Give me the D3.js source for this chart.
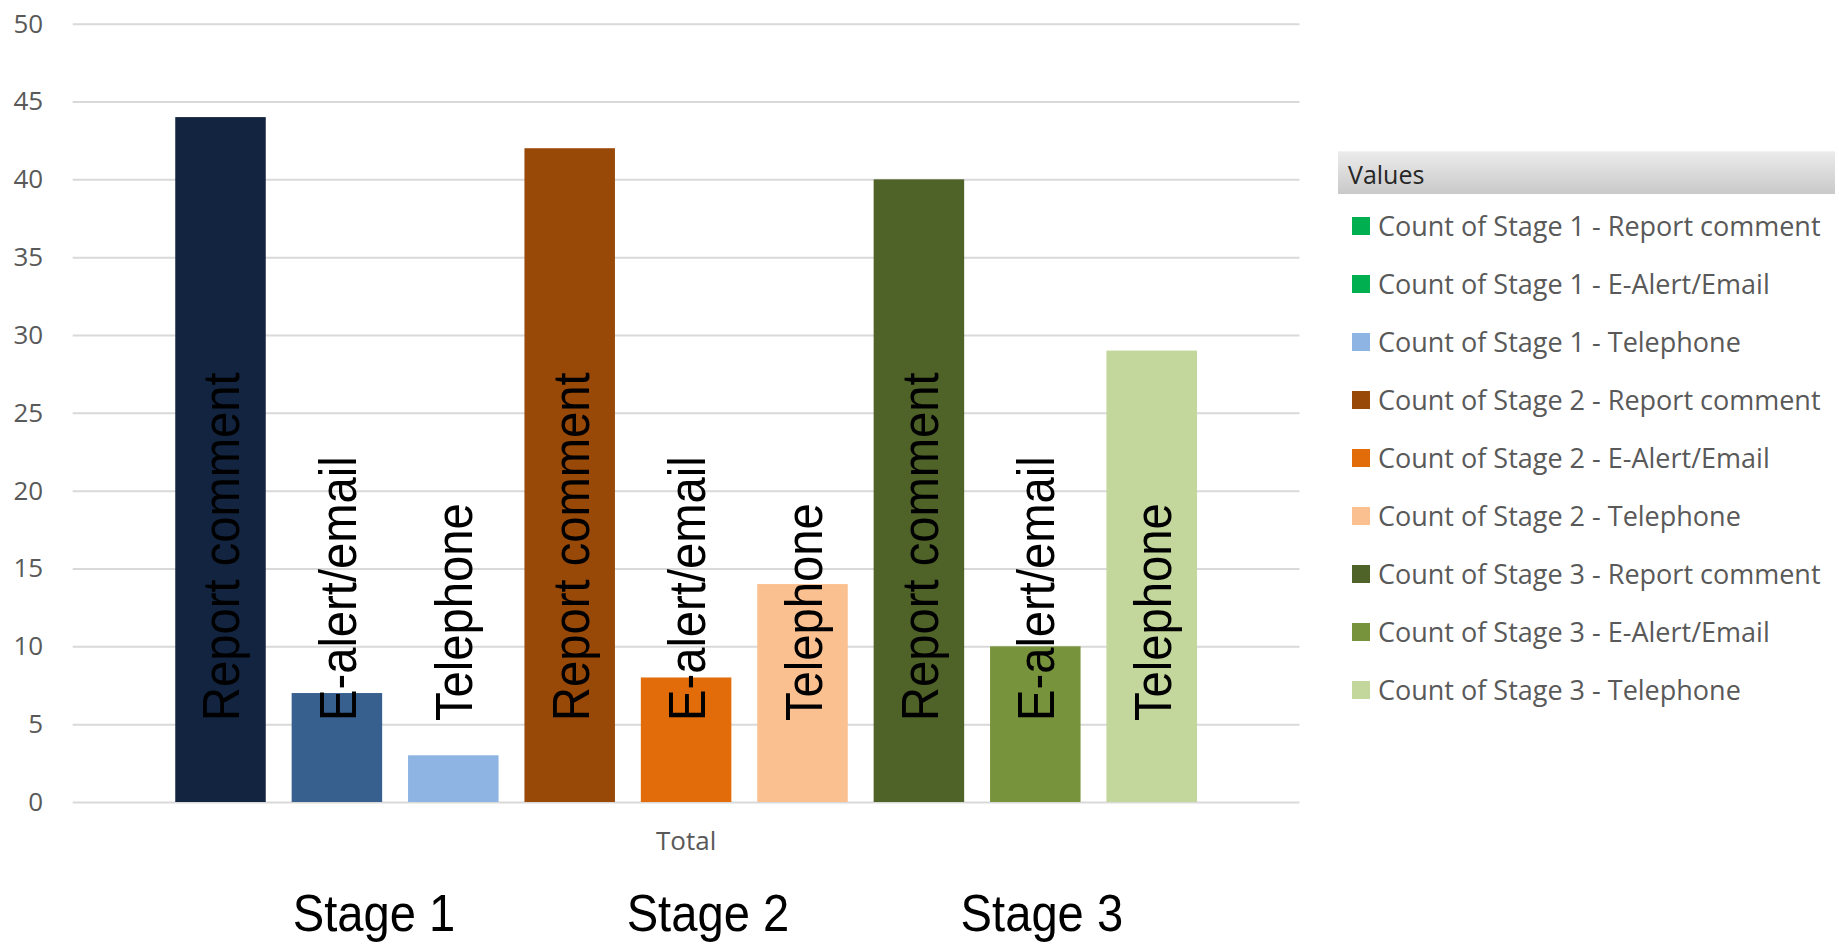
<!DOCTYPE html>
<html><head><meta charset="utf-8">
<script src="https://cdn.jsdelivr.net/npm/d3@7"></script>
<style>body{margin:0;background:#fff;} svg{display:block}</style>
</head><body><svg id="c" width="1839" height="944"></svg>
<script>
// ---- data ----
const seriesKeys = ["S1 Report comment","S1 E-alert/email","S1 Telephone",
                    "S2 Report comment","S2 E-alert/email","S2 Telephone",
                    "S3 Report comment","S3 E-alert/email","S3 Telephone"];
const values = [44, 7, 3, 42, 8, 14, 40, 10, 29];
const barLabels = ["Report comment","E-alert/email","Telephone",
                   "Report comment","E-alert/email","Telephone",
                   "Report comment","E-alert/email","Telephone"];
const barColors = ["#12243f","#37608f","#8eb4e3",
                   "#984807","#e36c0a","#fac090",
                   "#4f6228","#77933c","#c3d69b"];
const legendLabels = ["Count of Stage 1 - Report comment","Count of Stage 1 - E-Alert/Email","Count of Stage 1 - Telephone",
                      "Count of Stage 2 - Report comment","Count of Stage 2 - E-Alert/Email","Count of Stage 2 - Telephone",
                      "Count of Stage 3 - Report comment","Count of Stage 3 - E-Alert/Email","Count of Stage 3 - Telephone"];
const legendColors = ["#00b050","#00b050","#8eb4e3",
                      "#984807","#e36c0a","#fac090",
                      "#4f6228","#77933c","#c3d69b"];
const stages = ["Stage 1","Stage 2","Stage 3"];
const categories = ["Total"];
const yTicks = [0,5,10,15,20,25,30,35,40,45,50];
const legendTitle = "Values";

// ---- layout ----
const svg = d3.select("#c");
const x0 = 72.7, x1 = 1299.5, yTop = 23.7, yBot = 802;
const W = x1 - x0;

const y = d3.scaleLinear().domain([0, 50]).range([yBot, yTop]);
const xCat = d3.scaleBand().domain(categories).range([x0, x1]);
const xBar = d3.scaleBand().domain(seriesKeys).range([x0, x1])
  .paddingInner(0.2225).paddingOuter(0.881);

// gridlines + y tick labels
const yAxis = d3.axisLeft(y).tickValues(yTicks).tickSize(-W).tickPadding(29.5);
const gy = svg.append("g").attr("transform", `translate(${x0},0)`).call(yAxis);
gy.select(".domain").remove();
gy.selectAll(".tick line").attr("stroke", "#d9d9d9").attr("stroke-width", 2);
gy.selectAll(".tick text").attr("fill", "#595959")
  .style("font-family", "'Open Sans', sans-serif").style("font-size", "26px");

// bars
svg.append("g").selectAll("rect").data(values).join("rect")
  .attr("x", (d, i) => xBar(seriesKeys[i]))
  .attr("width", xBar.bandwidth())
  .attr("y", d => y(d))
  .attr("height", d => y(0) - y(d))
  .attr("fill", (d, i) => barColors[i]);

// category label
const gx = svg.append("g").attr("transform", `translate(0,${yBot})`)
  .call(d3.axisBottom(xCat).tickSize(0).tickPadding(30));
gx.select(".domain").remove();
gx.selectAll(".tick text").attr("fill", "#595959")
  .style("font-family", "'Open Sans', sans-serif").style("font-size", "26px");

// rotated bar labels
svg.append("g").selectAll("text").data(barLabels).join("text")
  .attr("transform", (d, i) => `translate(${xBar(seriesKeys[i]) + xBar.bandwidth()/2 + 19},${y(0) - 81}) rotate(-90) scale(0.925,1)`)
  .attr("fill", "#000")
  .style("font-family", "'Liberation Sans', Arial, sans-serif")
  .style("font-size", "51px")
  .text(d => d);

// stage labels
const xStage = d3.scalePoint().domain(stages).range([x0 + 0.2456 * W, x0 + 0.79 * W]);
svg.append("g").selectAll("text").data(stages).join("text")
  .attr("transform", d => `translate(${xStage(d)},931) scale(0.925,1)`)
  .attr("text-anchor", "middle")
  .attr("fill", "#000")
  .style("font-family", "'Liberation Sans', Arial, sans-serif")
  .style("font-size", "51px")
  .text(d => d);

// legend
const defs = svg.append("defs");
const grad = defs.append("linearGradient").attr("id", "hdr").attr("x1", 0).attr("y1", 0).attr("x2", 0).attr("y2", 1);
grad.append("stop").attr("offset", "0%").attr("stop-color", "#ececec");
grad.append("stop").attr("offset", "100%").attr("stop-color", "#c9c9c9");

const lg = svg.append("g");
lg.append("rect").attr("x", 1338).attr("y", 151).attr("width", 497).attr("height", 43)
  .attr("fill", "url(#hdr)");
lg.append("line").attr("x1", 1338).attr("x2", 1835).attr("y1", 151.5).attr("y2", 151.5)
  .attr("stroke", "#f2f2f2");
lg.append("text").attr("x", 1348).attr("y", 183.5).attr("fill", "#262626")
  .style("font-family", "'Open Sans', sans-serif").style("font-size", "25px")
  .text(legendTitle);

const ly = d3.scalePoint().domain(legendLabels).range([226, 690]);
const items = lg.selectAll("g.item").data(legendLabels).join("g").attr("class", "item")
  .attr("transform", d => `translate(1352,${ly(d)})`);
items.append("rect").attr("x", 0).attr("y", -9).attr("width", 18).attr("height", 18)
  .attr("fill", (d, i) => legendColors[i]);
items.append("text").attr("x", 26).attr("y", 9.5).attr("fill", "#595959")
  .style("font-family", "'Open Sans', sans-serif").style("font-size", "27px")
  .text(d => d);
</script>
</body></html>
